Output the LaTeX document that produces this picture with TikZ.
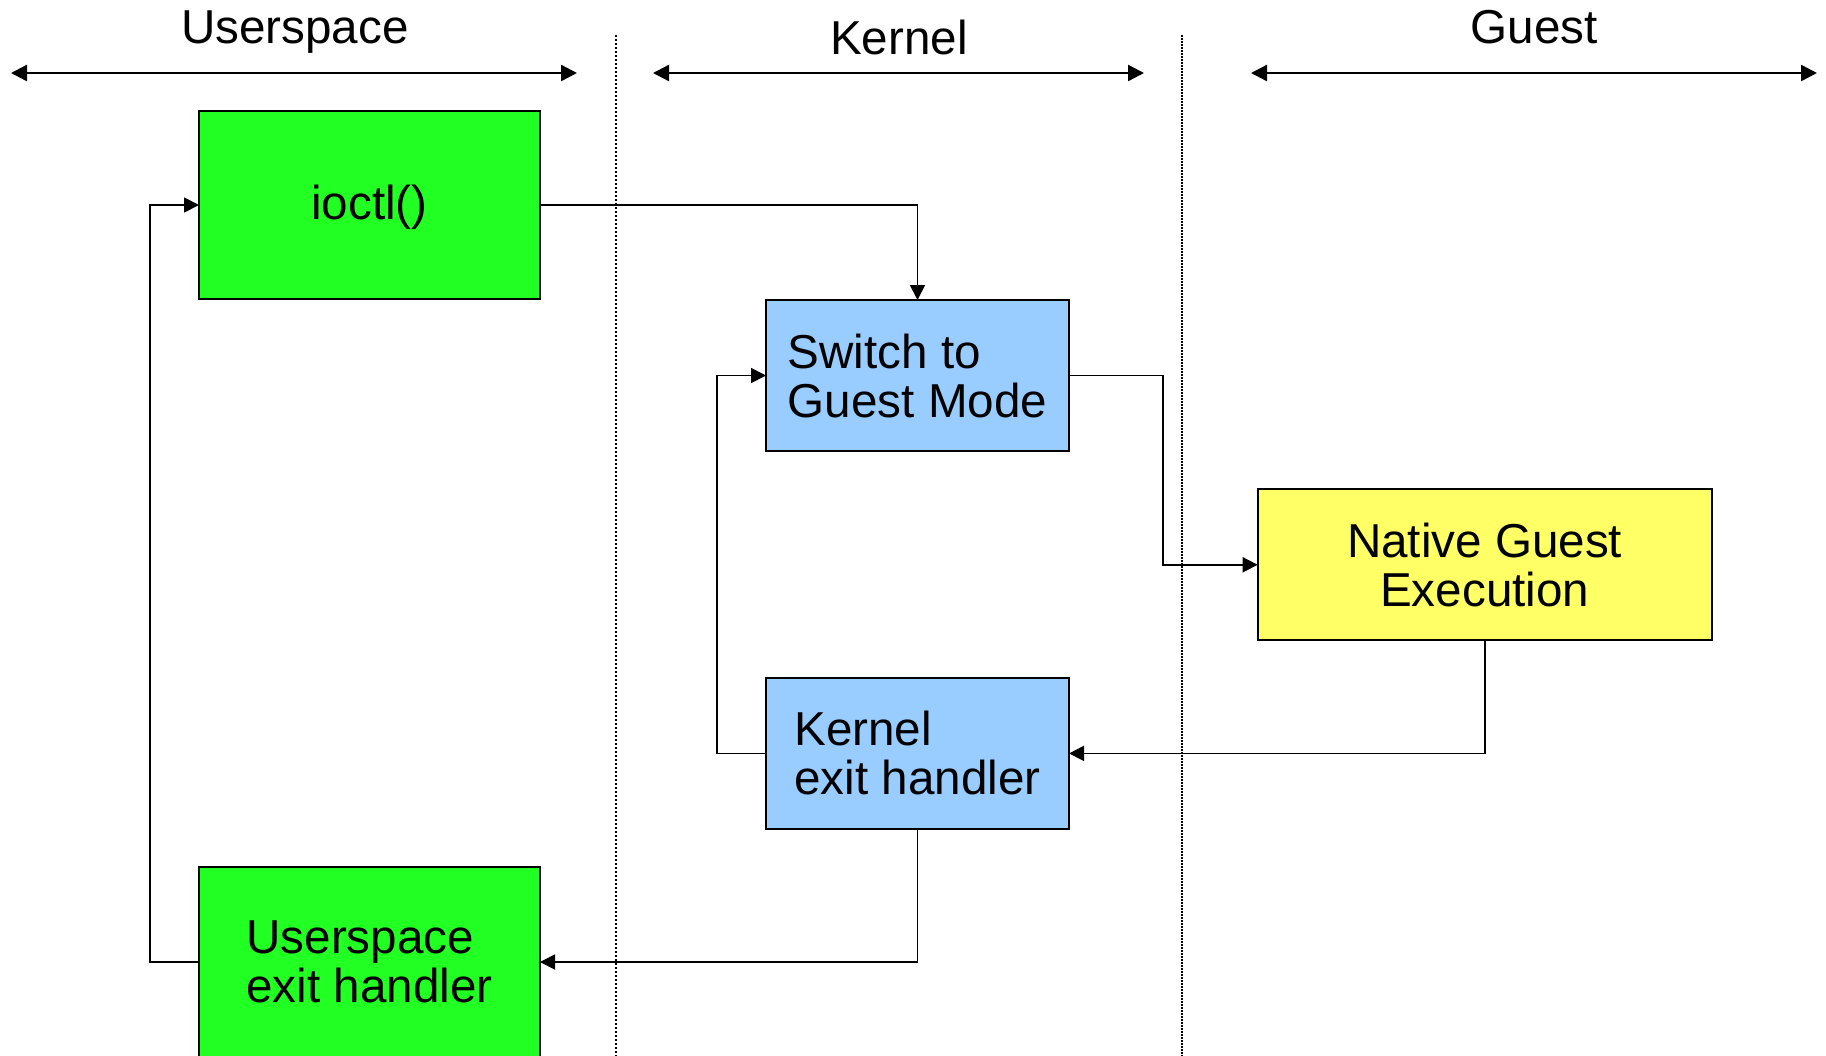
\documentclass[tikz,border=0pt]{standalone}
\usepackage{fontspec}
\setmainfont{Liberation Sans}
\usetikzlibrary{arrows.meta}
\definecolor{usergreen}{HTML}{22FF22}
\definecolor{kernelblue}{HTML}{99CCFF}
\definecolor{guestyellow}{HTML}{FFFF66}
\begin{document}
\begin{tikzpicture}[x=0.5pt,y=-0.5pt,
  font=\fontsize{23.8pt}{24.5pt}\selectfont,
  box/.style={draw=black, line width=1pt, inner sep=0pt, outer sep=0pt, align=left},
  bigbox/.style={box, minimum width=170.5pt, minimum height=94pt},
  smallbox/.style={box, minimum width=151.5pt, minimum height=75.5pt},
  flow/.style={line width=0.9pt, -{Triangle[length=7.5pt,width=7.5pt]}},
  span/.style={line width=1.2pt, {Triangle[length=8pt,width=8pt]}-{Triangle[length=8pt,width=8pt]}},
  divider/.style={line width=0.7pt, dash pattern=on 1.2pt off 0.8pt},
  heading/.style={anchor=base, inner sep=0pt}]
\useasboundingbox (0,0) rectangle (1826,1055);
\fill[white] (0,0) rectangle (1826,1055);

% column dividers
\coordinate (d1t) at (616,35);  \coordinate (d1b) at (616,1060);
\coordinate (d2t) at (1182,35); \coordinate (d2b) at (1182,1060);
\draw[divider] (d1t) -- (d1b);
\draw[divider, line width=1.2pt, dash pattern=on 1pt off 0.5pt] (d2t) -- (d2b);

% column headings
\node[heading] (hu) at (295,43) {Userspace};
\node[heading] (hk) at (899,54) {Kernel};
\node[heading] (hg) at (1534,43) {Guest};
\coordinate (ul) at (11,73);   \coordinate (ur) at (577,73);
\coordinate (kl) at (653,73);  \coordinate (kr) at (1144,73);
\coordinate (gl) at (1251,73); \coordinate (gr) at (1817,73);
\draw[span] (ul) -- (ur);
\draw[span] (kl) -- (kr);
\draw[span] (gl) -- (gr);

% boxes
\node[bigbox, fill=usergreen] (ioctl) at (369.5,205) {};
\node[inner sep=0pt] (ioctltext) at ([yshift=-1.2pt]ioctl.center) {ioctl()};
\node[smallbox, fill=kernelblue] (switch) at (917.5,375.5) {Switch to\\Guest Mode};
\node[box, fill=guestyellow, minimum width=227pt, minimum height=75.5pt, align=center] (native) at (1484.7,564.8) {Native Guest\\Execution};
\node[smallbox, fill=kernelblue] (kexit) at (917.5,753.4) {Kernel\\exit handler};
\node[bigbox, fill=usergreen, minimum height=95pt] (uexit) at (369.5,962) {Userspace\\exit handler};

% control flow
\draw[flow] (ioctl.east) -| (switch.north);
\draw[flow] (switch.east) -- ++(94,0) |- (native.west);
\draw[flow] (native.south) |- (kexit.east);
\draw[flow] (kexit.west) -- ++(-49,0) |- (switch.west);
\draw[flow] (kexit.south) |- (uexit.east);
\draw[flow] (uexit.west) -- ++(-49,0) |- (ioctl.west);
\end{tikzpicture}
\end{document}
